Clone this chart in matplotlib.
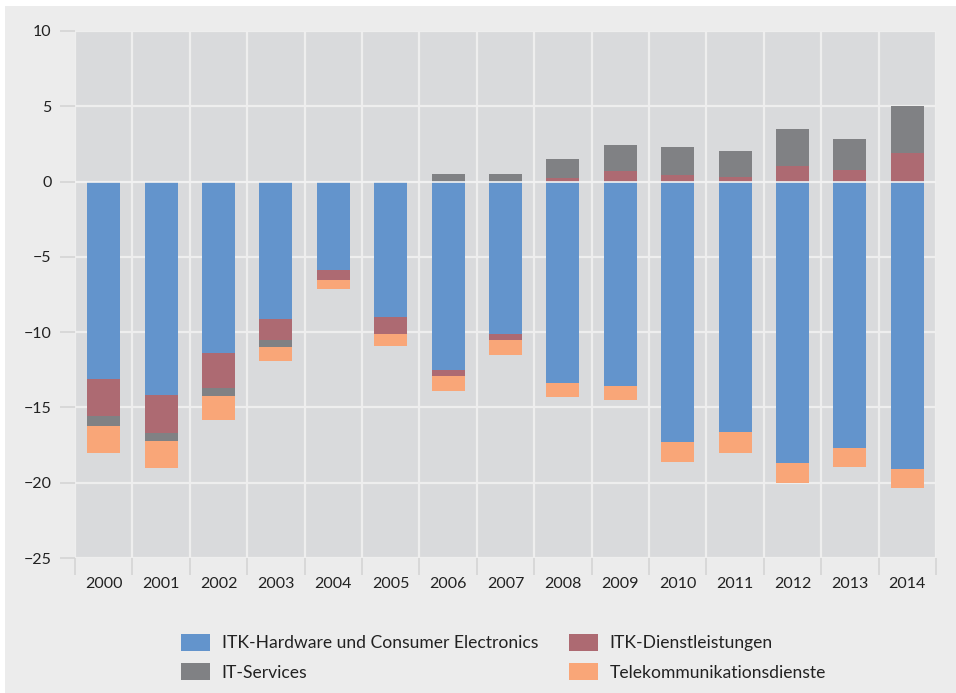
#!/usr/bin/env python3
# ITK-Marktsegmente 2000-2014, gestapelte Balken mit positiven und negativen Anteilen.
import matplotlib
matplotlib.use("Agg")
import matplotlib.pyplot as plt
import matplotlib.patches as mp
import numpy as np

plt.rcParams["font.family"] = ["Lato", "DejaVu Sans"]

years = ["2000", "2001", "2002", "2003", "2004", "2005", "2006", "2007",
         "2008", "2009", "2010", "2011", "2012", "2013", "2014"]
hardware = [-13.1, -14.2, -11.4, -9.1, -5.9, -9.0, -12.5, -10.1,
            -13.35, -13.55, -17.3, -16.6, -18.7, -17.7, -19.1]
dienste = [-2.5, -2.5, -2.3, -1.4, -0.65, -1.1, -0.4, -0.4,
           0.25, 0.7, 0.45, 0.3, 1.05, 0.8, 1.9]
services = [-0.65, -0.55, -0.55, -0.47, 0.0, 0.0, 0.5, 0.5,
            1.25, 1.75, 1.85, 1.75, 2.45, 2.05, 3.1]
telekom = [-1.8, -1.75, -1.6, -0.93, -0.6, -0.8, -1.0, -1.0,
           -0.95, -0.93, -1.3, -1.4, -1.3, -1.25, -1.25]

series = [("ITK-Hardware und Consumer Electronics", hardware, "#6394cc"),
          ("ITK-Dienstleistungen", dienste, "#ad6a72"),
          ("IT-Services", services, "#808184"),
          ("Telekommunikationsdienste", telekom, "#f9a678")]

BG = "#ececec"; PLOT = "#d9dadc"; GRID = "#eeeeee"; TXT = "#222222"

fig = plt.figure(figsize=(9.56, 6.93), dpi=100, facecolor="white")
fig.patches.append(mp.Rectangle((5/956, 0), 1, 1 - 6/693, transform=fig.transFigure,
                                facecolor=BG, edgecolor="none", zorder=-5))
ax = fig.add_axes([75/956, 1 - 558/693, 861/956, 527/693])
ax.set_facecolor(PLOT)

x = np.arange(len(years))
pos = np.zeros(len(years)); neg = np.zeros(len(years))
bars = {}
for name, vals, col in series:
    v = np.array(vals)
    bottom = np.where(v >= 0, pos, neg)
    bars[name] = ax.bar(x, v, 0.575, bottom=bottom, color=col, zorder=3, label=name)
    pos += np.where(v >= 0, v, 0); neg += np.where(v < 0, v, 0)

ax.set_xlim(-0.5, len(years) - 0.5)
ax.set_ylim(-25, 10)
ax.set_yticks(np.arange(-25, 11, 5))
ax.set_yticklabels([f"{t}".replace("-", "\u2212") for t in range(-25, 11, 5)])
ax.set_xticks(x)
ax.set_xticklabels(years)
ax.set_xticks(np.arange(-0.5, len(years), 1), minor=True)

ax.tick_params(axis="x", which="major", length=0, pad=14, labelsize=11.5, colors=TXT)
ax.tick_params(axis="x", which="minor", length=12, width=1.2, color="#d4d4d4")
ax.tick_params(axis="y", length=11, width=1.2, color="#d4d4d4", pad=6,
               labelsize=11.5, labelcolor=TXT)
ax.grid(axis="y", which="major", color=GRID, lw=1.6, zorder=1)
ax.grid(axis="x", which="minor", color=GRID, lw=1.6, zorder=1)
ax.set_axisbelow(True)
for s in ax.spines.values():
    s.set_visible(False)
# weiße Nulllinie über den Balken
ax.axhline(0, color="#f2f2f2", lw=1.2, zorder=4)

order = ["ITK-Hardware und Consumer Electronics", "IT-Services",
         "ITK-Dienstleistungen", "Telekommunikationsdienste"]
fig.legend([bars[n] for n in order], order, loc="upper left",
           bbox_to_anchor=(172/956, 1 - 625/693), ncol=2, frameon=False,
           fontsize=12.6, handlelength=1.68, handleheight=1.12, handletextpad=0.66,
           columnspacing=1.75, labelspacing=0.7, borderpad=0, labelcolor=TXT)

fig.savefig("out.png", dpi=100, facecolor="white")
